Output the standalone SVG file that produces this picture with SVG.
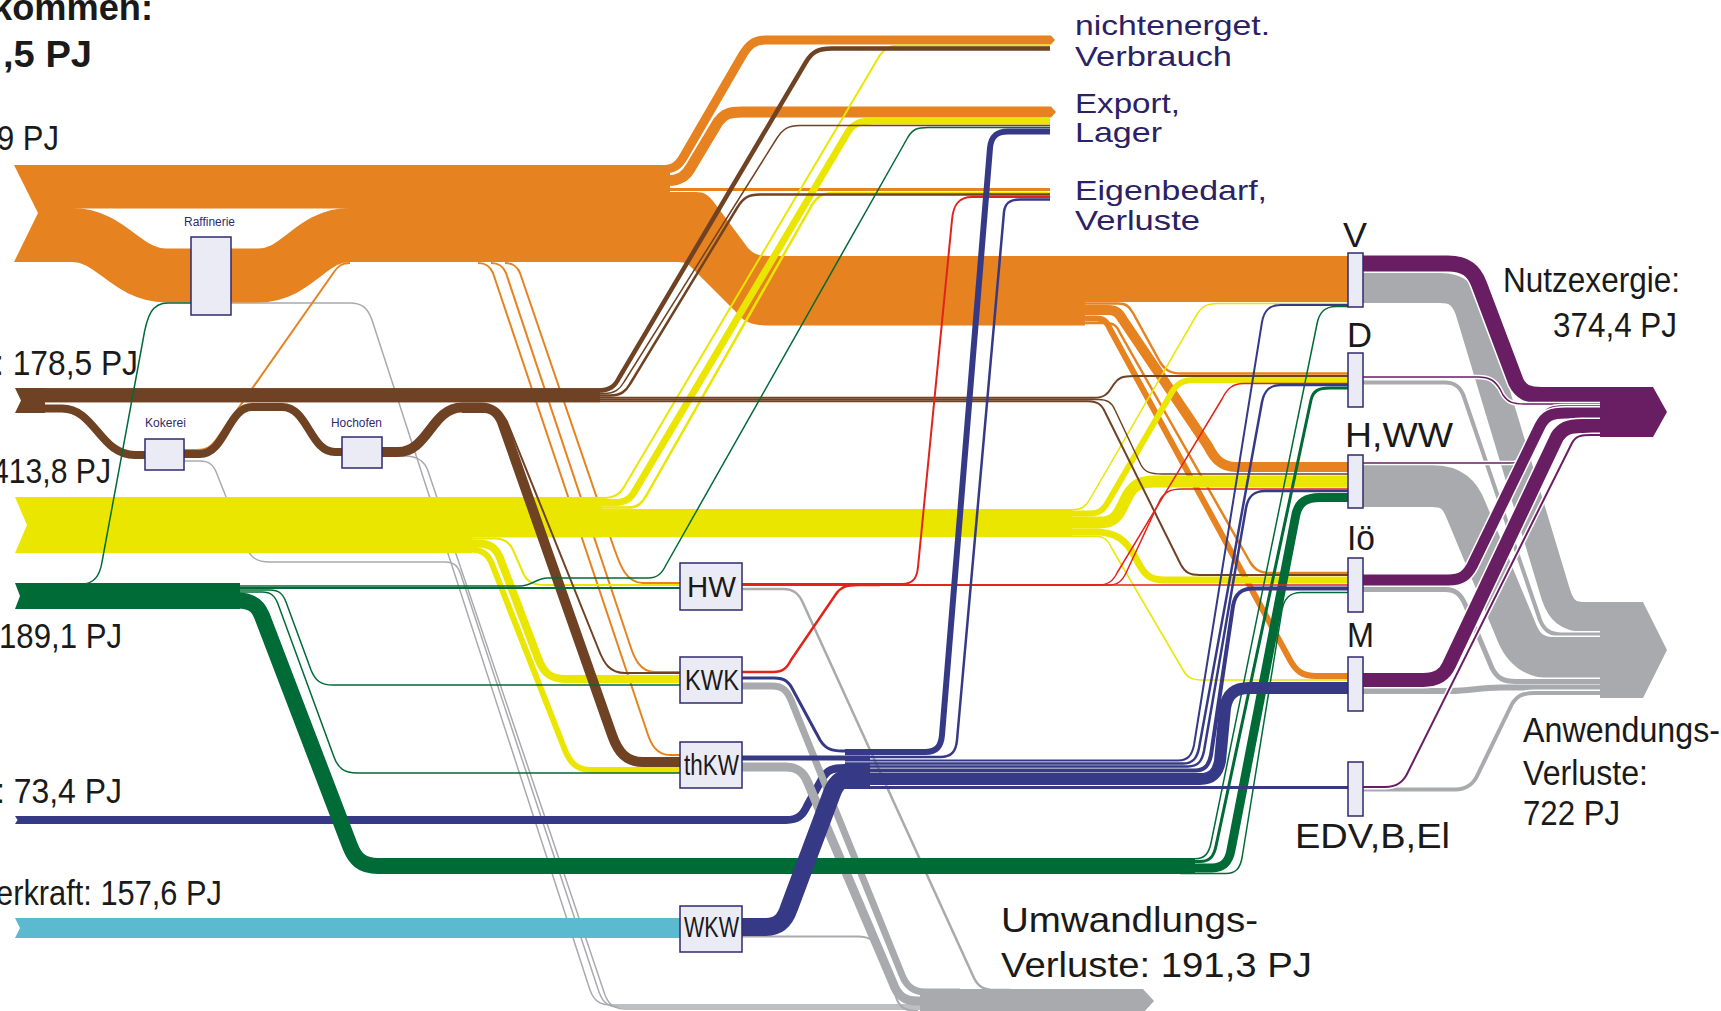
<svg xmlns="http://www.w3.org/2000/svg" width="1721" height="1011" viewBox="0 0 1721 1011">
<style>
path{fill:none;stroke-linecap:butt;stroke-linejoin:round}
.o{stroke:#E6821F}.b{stroke:#6F4224}.y{stroke:#EAE600}.g{stroke:#006B36}.n{stroke:#363A86}.r{stroke:#E2231A}.s{stroke:#A9AAAE}.p{stroke:#691E63}.w{stroke:#FFFFFF}
.fo{fill:#E6821F}.fb{fill:#6F4224}.fy{fill:#EAE600}.fg{fill:#006B36}.fn{fill:#363A86}.fl{fill:#5BBACF}.fs{fill:#A9AAAE}.fp{fill:#691E63}
.box{fill:#EBEBF6;stroke:#2F2A6C;stroke-width:1.5}
text{font-family:"Liberation Sans Narrow","Liberation Sans",Arial,sans-serif}
.lb{fill:#1A1A1A;font-size:35px}
.bd{font-weight:bold;font-size:36px}
.tg{fill:#2A2264;font-size:28px}
.sm{fill:#2F2A6C;font-size:12.5px}
.pl{fill:#1A1A1A;font-size:29px}
.cs{fill:#1A1A1A;font-size:35px}
</style>

<g id="labels-left">
<text class="lb bd" x="-8" y="20" textLength="161" lengthAdjust="spacingAndGlyphs">kommen:</text>
<text class="lb bd" x="3" y="67" textLength="89" lengthAdjust="spacingAndGlyphs">,5 PJ</text>
<text class="lb" x="-3" y="150" textLength="62" lengthAdjust="spacingAndGlyphs">9 PJ</text>
<text class="lb" x="-5" y="375" textLength="143" lengthAdjust="spacingAndGlyphs">: 178,5 PJ</text>
<text class="lb" x="-8" y="483" textLength="119" lengthAdjust="spacingAndGlyphs">413,8 PJ</text>
<text class="lb" x="-1" y="648" textLength="123" lengthAdjust="spacingAndGlyphs">189,1 PJ</text>
<text class="lb" x="-4" y="803" textLength="126" lengthAdjust="spacingAndGlyphs">: 73,4 PJ</text>
<text class="lb" x="-4" y="905" textLength="226" lengthAdjust="spacingAndGlyphs">erkraft: 157,6 PJ</text>
</g>

<g id="connectors">
<!-- left-node losses (gray) -->
<path class="s" stroke-width="1.5" d="M231,303 L350,303 C363,303 368,309 372,320 L590,990 C594,1001 600,1005 612,1005 L925,1005"/>
<path class="s" stroke-width="1.5" d="M184,461 L200,461 C210,461 214,466 217,474 L245,545 C250,557 256,562 270,562 L445,562 C455,562 459,567 462,578 L599,992 C603,1003 608,1007 620,1007 L925,1007"/>
<path class="s" stroke-width="1.5" d="M382,456 L405,456 C418,456 425,462 428,471 L605,995 C609,1005 614,1009 626,1009 L925,1009"/>
<!-- light blue + import navy (left parts) -->
<polygon class="fl" points="15,918 680,918 680,938 15,938 20,928"/>
<polygon class="fn" points="15,816 45,816 45,824 15,824 17.5,820"/>
<path class="n" stroke-width="8" d="M40,820 L786,820 C798,820 803,815 807,806 L822,779 C827,770 832,768 845,768 L870,768"/>
<!-- plant losses -->
<path class="s" stroke-width="2.5" d="M742,589 L783,589 C794,589 799,594 803,603 L974,978 C978,986 983,990 995,990 L1010,990"/>
<path class="s" stroke-width="7" d="M742,686 L772,686 C783,686 787,691 791,700 L902,975 C906,985 912,992 925,992 L960,992"/>
<path class="s" stroke-width="9" d="M742,767 L786,767 C798,767 804,773 808,783 L893,983 C897,995 904,1001 917,1001 L960,1001"/>
<path class="s" stroke-width="2" d="M742,936.5 L858,936.5 C870,936.5 875,941 879,950 L897,1000 C901,1008 906,1011 918,1011"/>
<polygon class="fs" points="920,989 1143,989 1154,1001 1143,1013 920,1013"/>

<!-- orange -->
<polygon class="fo" points="14,165 62,165 62,262 14,262 38,213"/>
<rect class="fo" x="40" y="165" width="630" height="43.5"/>
<path class="o" stroke-width="54" d="M40,235 L72,235 C112,235 126,275.5 166,275.5 L258,275.5 C298,275.5 310,235 350,235 L670,235"/>
<path class="o" stroke-width="9" d="M640,169.5 L662,169.5 C674,169.5 679,165 684,156 L742,56 C748,46 753,40 766,40 L1048,40"/>
<path class="o" stroke-width="11" d="M640,180.5 L668,180.5 C680,180.5 686,176 691,167 L718,122 C724,114 729,112 742,112 L1048,112"/>
<path class="o" stroke-width="3" d="M640,189.5 L1050,189.5"/>
<path class="fo" d="M1048,35.5 L1051,35.5 L1055,40 L1051,44.5 L1048,44.5 Z"/>
<path class="fo" d="M1048,106.5 L1051,106.5 L1056,112 L1051,117.5 L1048,117.5 Z"/>
<path class="fo" d="M655,192 L696,192 C704,192 708,195 713,201 L748,248 C754,254 758,256 770,256 L1348,256 L1348,302 L1085,302 L1085,325.5 L770,325.5 C752,325.5 744,322 737,313 L690,266 C686,262 682,262 670,262 L655,262 Z"/>
<path class="o" stroke-width="2.5" d="M1080,303.5 L1118,303.5 C1126,303.5 1129,306 1133,313 L1160,362 C1165,370 1170,373.5 1182,373.5 L1348,373.5"/>
<path class="o" stroke-width="10" d="M1080,310 L1108,310 C1116,310 1119,313 1123,320 L1208,446 C1214,458 1221,467 1236,467 L1348,467"/>
<path class="o" stroke-width="6" d="M1080,318.5 L1096,318.5 C1104,318.5 1107,322 1110,329 L1290,660 C1296,671 1302,676 1316,676 L1348,676"/>
<path class="o" stroke-width="2.5" d="M1080,323 L1106,323 C1114,323 1117,326 1120,333 L1250,562 C1255,570 1260,573 1272,573 L1348,573"/>
<path class="o" stroke-width="2" d="M505,263 C513,263 517,266 520,273 L614,548 C620,565 626,583 643,583 L680,583"/>
<path class="o" stroke-width="2" d="M491,263 C499,263 503,266 506,273 L630,645 C634,658 640,672 655,672 L680,672"/>
<path class="o" stroke-width="2" d="M478,263 C486,263 490,266 493,273 L647,732 C651,745 657,755 670,755 L680,755"/>
<path class="o" stroke-width="2" d="M350,263 C342,263 338,266 334,272 L216,440 C211,447 206,450 196,450 L184,450"/>

<!-- yellow -->
<polygon class="fy" points="15,497 45,497 45,553 15,553 27,525"/>
<rect class="fy" x="40" y="497" width="432" height="56"/>
<rect class="fy" x="470" y="497" width="132" height="40.5"/>
<rect class="fy" x="600" y="509" width="472" height="28"/>
<path class="y" stroke-width="2" d="M40,498 L605,498 C615,498 620,494 624,487 L880,55 C885,48 890,45.5 900,45.5 L1050,45.5"/>
<path class="y" stroke-width="7" d="M40,502.5 L615,502.5 C627,502.5 632,497 636,489 L848,132 C854,123 860,121 874,121 L1050,121"/>
<path class="y" stroke-width="2.5" d="M40,507.5 L628,507.5 C638,507.5 642,503 646,496 L812,205 C818,196 822,193 834,193 L1050,193"/>
<path class="y" stroke-width="1.5" d="M40,509.75 L1072,509.75 C1082,509.75 1086,506 1090,499 L1196,316 C1201,307 1206,303.5 1218,303.5 L1348,303.5"/>
<path class="y" stroke-width="6" d="M40,513.5 L1090,513.5 C1100,513.5 1104,509 1108,502 L1172,392 C1177,384 1182,380 1194,380 L1348,380"/>
<path class="y" stroke-width="12" d="M40,522.5 L1100,522.5 C1112,522.5 1117,517 1121,509 L1128,495 C1134,485 1140,481.5 1155,481.5 L1348,481.5"/>
<path class="y" stroke-width="7" d="M40,532 L1095,532 C1115,532 1125,539 1134,555 L1140,566 C1146,576 1151,580 1165,580 L1348,580"/>
<path class="y" stroke-width="1.5" d="M40,536.25 L1095,536.25 C1104,536.25 1108,540 1111,547 L1183,670 C1187,677 1191,680 1202,680 L1348,680"/>
<path class="y" stroke-width="2" d="M40,538.5 L495,538.5 C505,538.5 510,543 513,550 L524,575 C528,582 533,585 545,585 L680,585"/>
<path class="y" stroke-width="8" d="M40,543.5 L478,543.5 C490,543.5 496,548 500,558 L538,658 C543,672 550,679 565,679 L680,679"/>
<path class="y" stroke-width="6" d="M40,549.5 L470,549.5 C482,549.5 488,554 492,564 L563,745 C569,762 576,770 591,770 L680,770"/>

<!-- brown -->
<polygon class="fb" points="15,388 45,388 45,413 15,413 21,400.5"/>
<rect class="fb" x="40" y="388.25" width="560" height="14"/>
<path class="b" stroke-width="4.5" d="M40,390.5 L598,390.5 C610,390.5 615,386 619,378 L806,62 C812,52 818,48.5 832,48.5 L1050,48.5"/>
<path class="b" stroke-width="1.5" d="M40,393.5 L604,393.5 C615,393.5 620,389 624,382 L777,138 C783,129 788,125.5 800,125.5 L1050,125.5"/>
<path class="b" stroke-width="2.5" d="M40,395.5 L610,395.5 C621,395.5 626,391 630,384 L737,208 C743,198 748,194.5 760,194.5 L1050,194.5"/>
<path class="b" stroke-width="2" d="M40,397.75 L1094,397.75 C1104,397.75 1108,394 1112,387 L1114,384 C1118,378 1122,376 1134,376 L1348,376"/>
<path class="b" stroke-width="1.5" d="M40,399.5 L1098,399.5 C1108,399.5 1112,403 1115,410 L1141,465 C1145,472 1150,474 1162,474 L1348,474"/>
<path class="b" stroke-width="2" d="M40,401.25 L1088,401.25 C1098,401.25 1102,405 1105,412 L1181,565 C1185,572 1189,575 1200,575 L1348,575"/>
<path class="b" stroke-width="8" d="M40,408.5 L62,408.5 C95,408.5 100,455 135,455 L146,455"/>
<path class="b" stroke-width="8" d="M183,454 L200,454 C225,454 228,407 252,407 L282,407 C308,407 310,452 335,452 L343,452"/>
<path class="b" stroke-width="10" d="M381,452 L398,452 C428,452 432,407.5 462,407.5 L480,407.5 C492,407.5 498,412 502,422 L612,735 C618,752 626,762 643,762 L680,762"/>
<path class="b" stroke-width="2" d="M462,412 L490,412 C500,412 505,416 508,424 L598,648 C604,664 610,673 625,673 L680,673"/>

<!-- green -->
<polygon class="fg" points="15,583 45,583 45,609 15,609 20,596"/>
<rect class="fg" x="40" y="583" width="200" height="26"/>
<path class="g" stroke-width="1.5" d="M60,584 L82,584 C95,584 100,575 102,562 L143,340 C147,315 152,303 168,303 L191,303"/>
<path class="g" stroke-width="1.5" d="M200,586 L520,586 C532,586 536,578 548,578 L648,578 C658,578 662,573 666,565 L908,137 C913,129 917,127.5 928,127.5 L1050,127.5"/>
<path class="g" stroke-width="2" d="M200,588 L680,588"/>
<path class="g" stroke-width="1.5" d="M200,590 L270,590 C279,590 283,594 286,602 L311,670 C315,680 320,685 333,685 L680,685"/>
<path class="g" stroke-width="1.5" d="M200,592 L262,592 C271,592 275,596 278,604 L334,757 C338,768 344,773 357,773 L680,773"/>
<path class="g" stroke-width="16" d="M200,600.5 L238,600.5 C252,600.5 258,606 262,616 L350,846 C355,859 362,866 378,866 L1195,866"/>
<path class="g" stroke-width="1.5" d="M1180,858.75 L1195,858.75 C1205,858.75 1209,853 1211,843 L1317,324 C1319,313 1324,306.5 1336,306.5 L1348,306.5"/>
<path class="g" stroke-width="3" d="M1180,861.5 L1200,861.5 C1210,861.5 1214,856 1216,846 L1311,400 C1313,391 1318,388 1330,388 L1348,388"/>
<path class="g" stroke-width="9" d="M1180,868 L1212,868 C1224,868 1229,861 1231,850 L1296,514 C1299,502 1306,497.5 1320,497.5 L1348,497.5"/>
<path class="g" stroke-width="1.5" d="M1180,873.5 L1226,873.5 C1236,873.5 1240,868 1242,858 L1282,610 C1284,599 1289,592.5 1301,592.5 L1348,592.5"/>

<!-- red -->
<path class="r" stroke-width="1.5" d="M742,585 L1348,585"/>
<path class="r" stroke-width="2" d="M742,584 L902,584 C913,584 917,578 918,567 L952,220 C953,206 958,197 972,197 L1050,197"/>
<path class="r" stroke-width="1.5" d="M742,585 L1098,585 C1108,585 1113,581 1117,573 L1222,399 C1227,389 1232,383.5 1244,383.5 L1348,383.5"/>
<path class="r" stroke-width="1.5" d="M742,585 L1108,585 C1118,585 1122,581 1126,573 L1160,500 C1165,492 1170,489 1182,489 L1348,489"/>
<path class="r" stroke-width="2.5" d="M742,672 L773,672 C783,672 787,668 791,660 L836,594 C841,587 846,585 858,585 L880,585"/>

<!-- navy -->
<path class="n" stroke-width="3" d="M742,678 L774,678 C785,678 789,682 793,690 L820,740 C825,748 830,751 843,751 L870,751"/>
<path class="n" stroke-width="5" d="M742,758 L870,758"/>
<path class="n" stroke-width="18" d="M742,927 L766,927 C779,927 785,920 789,908 L832,793 C836,782 842,777 856,777 L870,777"/>
<path class="n" stroke-width="6" d="M845,752 L925,752 C937,752 941,746 942,735 L990,148 C991,137 996,131.5 1008,131.5 L1050,131.5"/>
<path class="n" stroke-width="2.5" d="M845,757 L940,757 C952,757 956,751 957,740 L1004,212 C1005,203 1010,199.5 1020,199.5 L1050,199.5"/>
<path class="n" stroke-width="2" d="M845,760.5 L1178,760.5 C1188,760.5 1192,755 1194,745 L1262,322 C1264,311 1269,305 1281,305 L1348,305"/>
<path class="n" stroke-width="2.5" d="M845,763.5 L1183,763.5 C1193,763.5 1197,758 1199,748 L1262,402 C1264,391 1269,385 1281,385 L1348,385"/>
<path class="n" stroke-width="2.5" d="M845,766.5 L1188,766.5 C1198,766.5 1202,761 1204,751 L1246,508 C1248,497 1253,491 1265,491 L1348,491"/>
<path class="n" stroke-width="4" d="M845,770.5 L1195,770.5 C1205,770.5 1209,765 1211,755 L1233,606 C1235,594 1241,588.5 1253,588.5 L1348,588.5"/>
<path class="n" stroke-width="12" d="M845,779 L1200,779 C1213,779 1218,772 1220,761 L1225,708 C1227,695 1234,688 1249,688 L1348,688"/>
<path class="n" stroke-width="3" d="M845,787.5 L1348,787.5"/>

<!-- right: application losses (gray) -->
<path class="w" stroke-width="33" d="M1363,288 L1440,288 C1458,288 1465,296 1470,310 L1556,595 C1561,610 1568,617 1585,617 L1610,617"/>
<path class="s" stroke-width="30" d="M1363,288 L1440,288 C1458,288 1465,296 1470,310 L1556,595 C1561,610 1568,617 1585,617 L1610,617"/>
<path class="w" stroke-width="7" d="M1363,382.5 L1445,382.5 C1456,382.5 1461,388 1464,397 L1540,620 C1544,630 1550,634.5 1562,634.5 L1610,634.5"/>
<path class="s" stroke-width="4" d="M1363,382.5 L1445,382.5 C1456,382.5 1461,388 1464,397 L1540,620 C1544,630 1550,634.5 1562,634.5 L1610,634.5"/>
<path class="w" stroke-width="45" d="M1363,486 L1432,486 C1452,486 1460,495 1466,510 L1517,633 C1524,650 1535,658 1555,658 L1610,658"/>
<path class="s" stroke-width="42" d="M1363,486 L1432,486 C1452,486 1460,495 1466,510 L1517,633 C1524,650 1535,658 1555,658 L1610,658"/>
<path class="w" stroke-width="8" d="M1363,589.5 L1445,589.5 C1456,589.5 1461,595 1465,604 L1492,668 C1497,678 1503,681.5 1516,681.5 L1610,681.5"/>
<path class="s" stroke-width="5" d="M1363,589.5 L1445,589.5 C1456,589.5 1461,595 1465,604 L1492,668 C1497,678 1503,681.5 1516,681.5 L1610,681.5"/>
<path class="s" stroke-width="6" d="M1363,691 L1450,691 C1470,691 1480,687.5 1500,687.5 L1610,687.5"/>
<path class="w" stroke-width="7" d="M1363,789.5 L1455,789.5 C1468,789.5 1474,783 1478,774 L1512,704 C1517,696 1522,693 1535,693 L1600,693"/>
<path class="s" stroke-width="4" d="M1363,789.5 L1455,789.5 C1468,789.5 1474,783 1478,774 L1512,704 C1517,696 1522,693 1535,693 L1610,693"/>
<polygon class="fs" points="1600,602 1643,602 1667,650 1643,698 1600,698"/>

<!-- right: useful exergy (purple) -->
<path class="w" stroke-width="19" d="M1363,263.5 L1448,263.5 C1466,263.5 1474,271 1479,284 L1516,382 C1521,392 1527,395 1542,395 L1600,395"/>
<path class="p" stroke-width="16" d="M1363,263.5 L1448,263.5 C1466,263.5 1474,271 1479,284 L1516,382 C1521,392 1527,395 1542,395 L1610,395"/>
<path class="w" stroke-width="4.5" d="M1363,377 L1478,377 C1490,377 1495,381 1500,389 L1503,395 C1508,402 1512,404 1525,404 L1600,404"/>
<path class="p" stroke-width="1.5" d="M1363,377 L1478,377 C1490,377 1495,381 1500,389 L1503,395 C1508,402 1512,404 1525,404 L1610,404"/>
<path class="w" stroke-width="4.5" d="M1363,463 L1510,463 C1520,463 1524,459 1527,451 L1541,418 C1545,409 1550,406 1562,406 L1600,406"/>
<path class="p" stroke-width="1.5" d="M1363,463 L1510,463 C1520,463 1524,459 1527,451 L1541,418 C1545,409 1550,406 1562,406 L1610,406"/>
<path class="w" stroke-width="14" d="M1363,580 L1448,580 C1462,580 1467,575 1472,566 L1540,426 C1545,416 1551,413 1566,413 L1600,413"/>
<path class="p" stroke-width="11" d="M1363,580 L1448,580 C1462,580 1467,575 1472,566 L1540,426 C1545,416 1551,413 1566,413 L1610,413"/>
<path class="w" stroke-width="17" d="M1363,680 L1423,680 C1438,680 1445,674 1449,665 L1557,437 C1562,429 1568,426 1582,426 L1600,426"/>
<path class="p" stroke-width="14" d="M1363,680 L1423,680 C1438,680 1445,674 1449,665 L1557,437 C1562,429 1568,426 1582,426 L1610,426"/>
<path class="w" stroke-width="5" d="M1363,787 L1385,787 C1398,787 1404,781 1408,772 L1572,443 C1576,436 1580,435 1592,435 L1600,435"/>
<path class="p" stroke-width="2" d="M1363,787 L1385,787 C1398,787 1404,781 1408,772 L1572,443 C1576,436 1580,435 1592,435 L1610,435"/>
<polygon class="fp" points="1600,387 1653,387 1667,412 1653,437 1600,437"/>
</g>

<g id="node-raffinerie"><rect class="box" x="191" y="237" width="40" height="78"/><text class="sm" x="184" y="226" textLength="51" lengthAdjust="spacingAndGlyphs">Raffinerie</text></g>
<g id="node-kokerei"><rect class="box" x="145" y="439" width="39" height="31"/><text class="sm" x="145" y="427" textLength="41" lengthAdjust="spacingAndGlyphs">Kokerei</text></g>
<g id="node-hochofen"><rect class="box" x="342" y="437" width="40" height="31"/><text class="sm" x="331" y="427" textLength="51" lengthAdjust="spacingAndGlyphs">Hochofen</text></g>
<g id="node-hw"><rect class="box" x="680" y="563" width="62" height="47"/><text class="pl" x="687" y="597" textLength="49" lengthAdjust="spacingAndGlyphs">HW</text></g>
<g id="node-kwk"><rect class="box" x="680" y="657" width="62" height="46"/><text class="pl" x="685" y="690" textLength="54" lengthAdjust="spacingAndGlyphs">KWK</text></g>
<g id="node-thkw"><rect class="box" x="680" y="742" width="62" height="46"/><text class="pl" x="684" y="775" textLength="55" lengthAdjust="spacingAndGlyphs">thKW</text></g>
<g id="node-wkw"><rect class="box" x="680" y="906" width="62" height="46"/><text class="pl" x="684" y="937" textLength="55" lengthAdjust="spacingAndGlyphs">WKW</text></g>

<g id="node-v"><rect class="box" x="1348" y="253" width="15" height="54"/><text class="cs" x="1343" y="247" textLength="24" lengthAdjust="spacingAndGlyphs">V</text></g>
<g id="node-d"><rect class="box" x="1348" y="353" width="15" height="54"/><text class="cs" x="1347" y="347" textLength="25" lengthAdjust="spacingAndGlyphs">D</text></g>
<g id="node-hww"><rect class="box" x="1348" y="455" width="15" height="53"/><text class="cs" x="1345" y="447" textLength="108" lengthAdjust="spacingAndGlyphs">H,WW</text></g>
<g id="node-io"><rect class="box" x="1348" y="558" width="15" height="54"/><text class="cs" x="1347" y="550" textLength="28" lengthAdjust="spacingAndGlyphs">Iö</text></g>
<g id="node-m"><rect class="box" x="1348" y="657" width="15" height="54"/><text class="cs" x="1347" y="647" textLength="27" lengthAdjust="spacingAndGlyphs">M</text></g>
<g id="node-edv"><rect class="box" x="1348" y="762" width="15" height="54"/><text class="cs" x="1295" y="848" textLength="155" lengthAdjust="spacingAndGlyphs">EDV,B,El</text></g>

<g id="node-targets">
<text class="tg" x="1075" y="35" textLength="195" lengthAdjust="spacingAndGlyphs">nichtenerget.</text>
<text class="tg" x="1075" y="66" textLength="157" lengthAdjust="spacingAndGlyphs">Verbrauch</text>
<text class="tg" x="1075" y="113" textLength="105" lengthAdjust="spacingAndGlyphs">Export,</text>
<text class="tg" x="1075" y="142" textLength="87" lengthAdjust="spacingAndGlyphs">Lager</text>
<text class="tg" x="1075" y="200" textLength="192" lengthAdjust="spacingAndGlyphs">Eigenbedarf,</text>
<text class="tg" x="1075" y="230" textLength="125" lengthAdjust="spacingAndGlyphs">Verluste</text>
</g>
<g id="node-nutzexergie">
<text class="cs" x="1503" y="292" textLength="177" lengthAdjust="spacingAndGlyphs">Nutzexergie:</text>
<text class="cs" x="1553" y="337" textLength="124" lengthAdjust="spacingAndGlyphs">374,4 PJ</text>
</g>
<g id="node-anwendungsverluste">
<text class="cs" x="1523" y="742" textLength="197" lengthAdjust="spacingAndGlyphs">Anwendungs-</text>
<text class="cs" x="1523" y="785" textLength="125" lengthAdjust="spacingAndGlyphs">Verluste:</text>
<text class="cs" x="1523" y="825" textLength="97" lengthAdjust="spacingAndGlyphs">722 PJ</text>
</g>
<g id="node-umwandlungsverluste">
<text class="cs" x="1001" y="932" textLength="257" lengthAdjust="spacingAndGlyphs">Umwandlungs-</text>
<text class="cs" x="1001" y="977" textLength="311" lengthAdjust="spacingAndGlyphs">Verluste: 191,3 PJ</text>
</g>
</svg>
